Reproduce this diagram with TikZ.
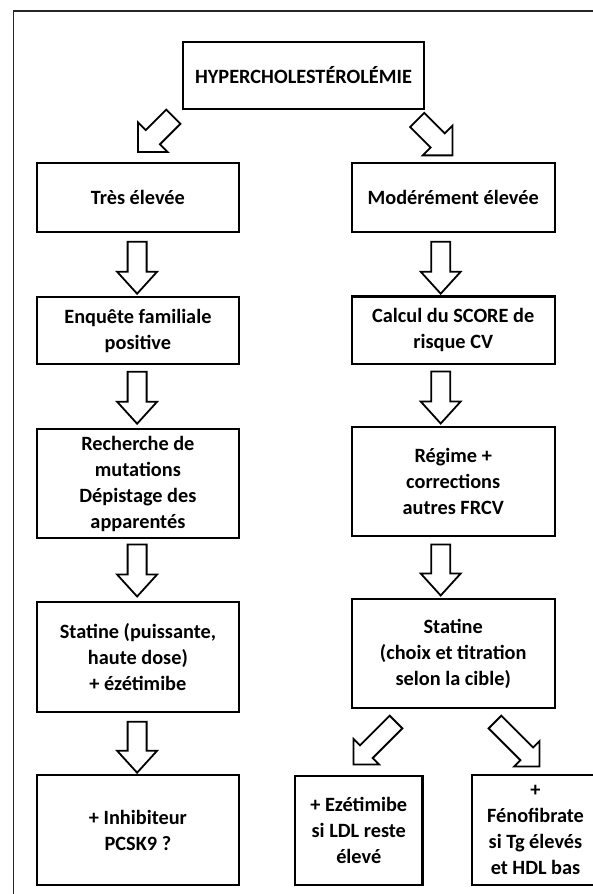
\documentclass[tikz,border=0pt]{standalone}
\usepackage{fontspec}
\setmainfont{Carlito}
\newcommand{\blockarrow}[6]{%
  \begin{scope}[shift={(#1)},rotate=#2]
    \draw[barrowline] (-#4/2,0) -- (-#4/2,#3-#6) -- (-#5/2,#3-#6) -- (0,#3)
      -- (#5/2,#3-#6) -- (#4/2,#3-#6) -- (#4/2,0) -- cycle;
  \end{scope}}
\tikzset{
  box/.style={draw=black, line width=2.1pt, inner sep=2pt, align=center,
    font=\fontsize{20.3}{26}\selectfont\bfseries, text=black},
  barrowline/.style={draw=black, line width=1.8pt, fill=white, line join=miter},
  frameline/.style={draw=black!85, line width=1.2pt}
}
\begin{document}
\begin{tikzpicture}[x=1pt,y=-1pt]
\useasboundingbox (0,0) rectangle (593,894);
\draw[frameline] (13.6,900) -- (13.6,11) -- (600,11);

\node[box, minimum width=241.7pt, minimum height=67.6pt] (hyp) at (303.5,75.5) {HYPERCHOLESTÉROLÉMIE};
\node[box, minimum width=202.3pt, minimum height=69pt] (tres) at (137.9,197.8) {Très élevée};
\node[box, minimum width=203.1pt, minimum height=69pt] (mod) at (453.2,197.8) {Modérément élevée};
\node[box, minimum width=202.3pt, minimum height=67.6pt] (enq) at (137.9,330.5) {Enquête familiale\\positive};
\node[box, minimum width=203.1pt, minimum height=67.8pt] (calc) at (453.2,330.4) {Calcul du SCORE de\\risque CV};
\node[box, minimum width=202.3pt, minimum height=109pt] (rech) at (137.9,483.8) {Recherche de\\mutations\\Dépistage des\\apparentés};
\node[box, minimum width=203.1pt, minimum height=109.3pt] (reg) at (453.2,481.3) {Régime +\\corrections\\autres FRCV};
\node[box, minimum width=202.3pt, minimum height=110pt] (statL) at (137.9,656.7) {Statine (puissante,\\haute dose)\\+ ézétimibe};
\node[box, minimum width=203.1pt, minimum height=109pt] (statR) at (453.2,653.8) {Statine\\(choix et titration\\selon la cible)};
\node[box, minimum width=202.3pt, minimum height=110pt] (pcsk) at (137.9,830) {+ Inhibiteur\\PCSK9 ?};
\node[box, minimum width=127.5pt, minimum height=109pt] (eze) at (358.75,830.5) {+ Ezétimibe\\si LDL reste\\élevé};
\node[box, minimum width=127.5pt, minimum height=110pt] (feno) at (535.5,830) {+\\Fénofibrate\\si Tg élevés\\et HDL bas};

% block arrow start points
\coordinate (d1) at (173.4,116.7);
\coordinate (d2) at (417.2,120);
\coordinate (v1) at (137.1,241.7);
\coordinate (v2) at (137.1,371.7);
\coordinate (v3) at (137.1,544.5);
\coordinate (v4) at (137.1,721.7);
\coordinate (r1) at (440.7,241.7);
\coordinate (r2) at (440.7,371.5);
\coordinate (r3) at (440.7,544.5);
\coordinate (d3) at (396,722);
\coordinate (d4) at (495,722);

\blockarrow{d1}{-45}{50}{20}{42}{21}
\blockarrow{d2}{45}{50}{20}{42}{21}
\blockarrow{v1}{0}{52}{19}{40}{22}
\blockarrow{v2}{0}{52}{19}{40}{22}
\blockarrow{v3}{0}{52}{19}{40}{22}
\blockarrow{v4}{0}{51}{19}{40}{22}
\blockarrow{r1}{0}{52}{19}{40}{22}
\blockarrow{r2}{0}{52}{19}{40}{22}
\blockarrow{r3}{0}{51}{19}{40}{22}
\blockarrow{d3}{-45}{60}{18}{36}{18}
\blockarrow{d4}{45}{63}{18}{36}{18}
\end{tikzpicture}
\end{document}
